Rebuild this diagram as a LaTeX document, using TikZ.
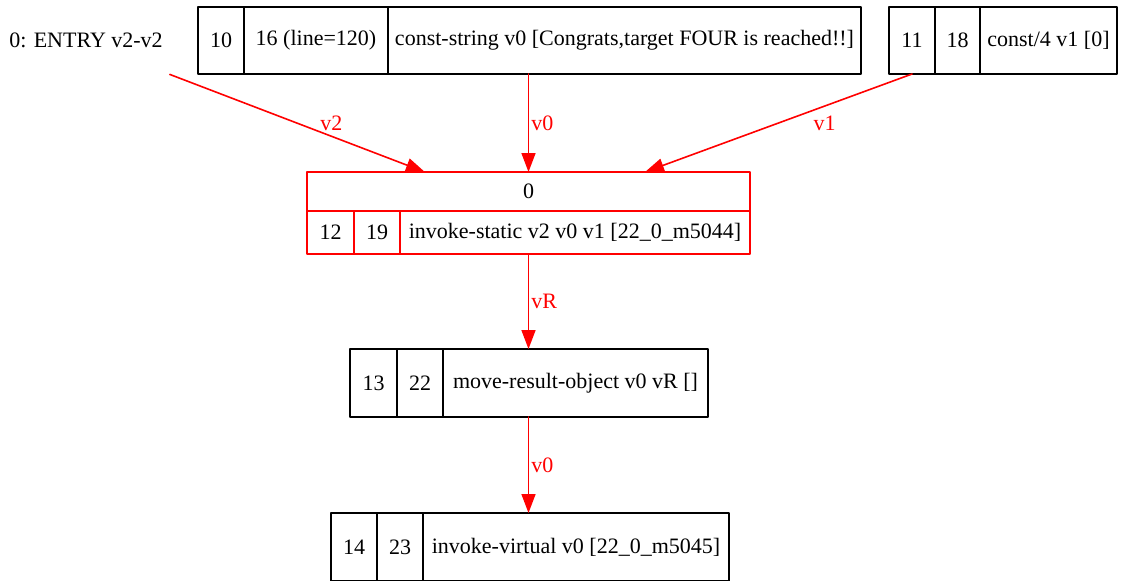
\documentclass[tikz,border=0pt]{standalone}
\usepackage{fontspec}
\setmainfont{Liberation Serif}
\usetikzlibrary{positioning,calc,arrows.meta}
\begin{document}
\begin{tikzpicture}[x=0.5pt,y=-0.5pt,line cap=round,line join=round,font=\fontsize{11}{13}\selectfont]
	\tikzset{cell/.style={draw,line width=0.8pt,inner sep=0pt,outer sep=0pt,minimum height=33.5pt,anchor=west},
		redcell/.style={cell,draw=red},
		flow/.style={draw=red,line width=0.8pt,-{Triangle[length=9.5pt,width=7pt]}},
		lbl/.style={text=red,inner sep=1pt}}
	\useasboundingbox (0,0) rectangle (1122,580);
	\node[minimum height=33.5pt] (entry) at (86,40.5) {0: ENTRY v2-v2};
	\node[cell,minimum width=23pt] (a1) at (198,40.5) {10};
	\node[cell,minimum width=72pt,right=0pt of a1] (a2) {16 (line=120)};
	\node[cell,minimum width=236.5pt,right=0pt of a2] (a3) {const-string v0 [Congrats,target FOUR is reached!!]};
	\node[cell,minimum width=23pt] (b1) at (889,40.5) {11};
	\node[cell,minimum width=22.5pt,right=0pt of b1] (b2) {18};
	\node[cell,minimum width=68.5pt,right=0pt of b2] (b3) {const/4 v1 [0]};
	\node[redcell,minimum width=221.5pt,minimum height=19.5pt] (m0) at (307,191.5) {0};
	\node[redcell,anchor=north west,minimum width=23.5pt,minimum height=21.5pt] (m1) at (m0.south west) {12};
	\node[redcell,minimum width=23pt,minimum height=21.5pt,right=0pt of m1] (m2) {19};
	\node[redcell,minimum width=175pt,minimum height=21.5pt,right=0pt of m2] (m3) {invoke-static v2 v0 v1 [22\_0\_m5044]};
	\node[cell,minimum width=23.5pt,minimum height=34pt] (c1) at (350,383) {13};
	\node[cell,minimum width=23pt,minimum height=34pt,right=0pt of c1] (c2) {22};
	\node[cell,minimum width=132.5pt,minimum height=34pt,right=0pt of c2] (c3) {move-result-object v0 vR []};
	\node[cell,minimum width=23pt,minimum height=34pt] (d1) at (331,547) {14};
	\node[cell,minimum width=23pt,minimum height=34pt,right=0pt of d1] (d2) {23};
	\node[cell,minimum width=153pt,minimum height=34pt,right=0pt of d2] (d3) {invoke-virtual v0 [22\_0\_m5045]};
	\draw[flow] (entry.south east) -- ($(m0.north west)!0.266!(m0.north east)$) node[lbl,pos=0.5,xshift=17pt] {v2};
	\draw[flow] (a3.south -| m0.north) -- (m0.north) node[lbl,midway,right] {v0};
	\draw[flow] (b1.south) -- ($(m0.north west)!0.763!(m0.north east)$) node[lbl,pos=0.5,xshift=23pt] {v1};
	\draw[flow] (m3.south -| m0.north) -- (c3.north -| m0.north) node[lbl,midway,right] {vR};
	\draw[flow] (c3.south -| m0.north) -- (d3.north -| m0.north) node[lbl,midway,right] {v0};
\end{tikzpicture}
\end{document}
